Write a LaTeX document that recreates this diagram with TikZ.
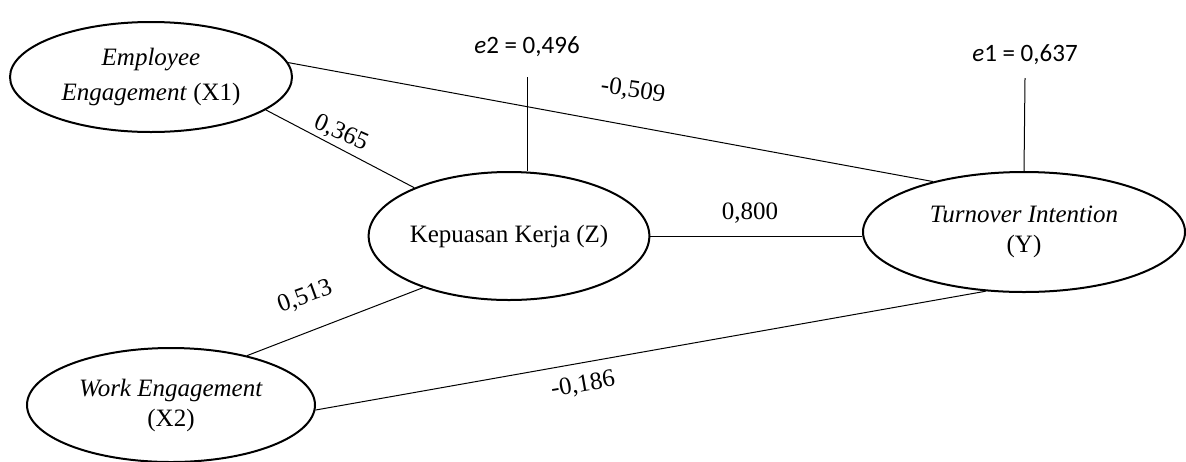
\documentclass[tikz,border=0pt]{standalone}
\usepackage{fontspec}
\setmainfont{Liberation Serif}
\newfontfamily\carl{Carlito}
\usetikzlibrary{shapes.geometric}
\begin{document}
\begin{tikzpicture}[x=0.5pt,y=-0.5pt,
  lv/.style={ellipse,draw,line width=1pt,inner sep=0pt,align=center,font=\rmfamily\fontsize{12.5}{15}\selectfont},
  conn/.style={line width=0.5pt},
  coef/.style={font=\rmfamily\fontsize{12.5}{14}\selectfont,inner sep=1pt},
  errl/.style={font=\carl\fontsize{12.5}{14}\selectfont,inner sep=1pt}]
\useasboundingbox (0,0) rectangle (1186,461);
\node[lv,minimum width=141pt,minimum height=55pt,font=\rmfamily\fontsize{12.5}{17.5}\selectfont] (X1) at (151,77) {\textit{Employee}\\\textit{Engagement} (X1)};
\node[lv,minimum width=136pt,minimum height=64pt] (Z) at (509,236) {Kepuasan Kerja (Z)};
\node[lv,minimum width=161pt,minimum height=60pt] (Y) at (1024,232) {\textit{Turnover Intention}\\(Y)};
\node[lv,minimum width=144pt,minimum height=57pt] (X2) at (171,405) {\textit{Work Engagement}\\(X2)};
\coordinate (e2c) at (527,77);
\coordinate (e1c) at (1025,78);
\node[errl] (e2) at (527,47) {\textit{e}2 = 0,496};
\node[errl] (e1) at (1025,55) {\textit{e}1 = 0,637};
\draw[conn] (X1.-16.5) -- (Z.153);
\draw[conn] (X1.6.4) -- (Y.151);
\draw[conn] (Z.east) -- (Z.east -| Y.west);
\draw[conn] (X2.33.5) -- (Z.211.7);
\draw[conn] (X2.-2) -- (Y.237);
\draw[conn] (e2c) -- (e2c |- Z.north);
\draw[conn] (e1c) -- (Y.north);
\node[coef,rotate=-24] (c1) at (341,133) {0,365};
\node[coef,rotate=-8] (c2) at (633,91) {-0,509};
\node[coef] (c3) at (750,213) {0,800};
\node[coef,rotate=20] (c4) at (305,297) {0,513};
\node[coef,rotate=10] (c5) at (583,385) {-0,186};
\end{tikzpicture}
\end{document}
